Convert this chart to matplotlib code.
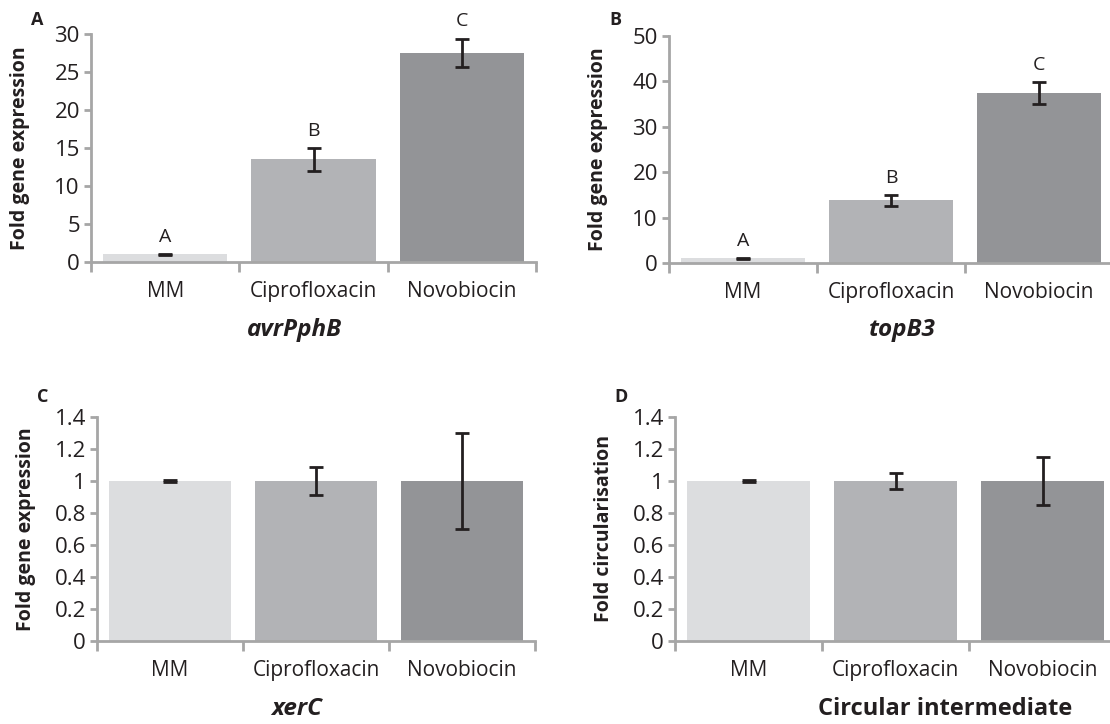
import matplotlib.pyplot as plt
import numpy as np

plt.rcParams['font.family'] = ['Open Sans', 'DejaVu Sans']

# Data
treatments = ['MM', 'Ciprofloxacin', 'Novobiocin']
bar_colors = ['#dcdddf', '#b2b3b6', '#939497']

avr_vals = [1.0, 13.5, 27.5]
avr_err = [0.05, 1.5, 1.9]
avr_letters = ['A', 'B', 'C']

top_vals = [1.0, 13.8, 37.5]
top_err = [0.05, 1.2, 2.4]
top_letters = ['A', 'B', 'C']

xer_vals = [1.0, 1.0, 1.0]
xer_err = [0.005, 0.09, 0.3]

circ_vals = [1.0, 1.0, 1.0]
circ_err = [0.005, 0.05, 0.15]

W, H = 1110, 724
fig = plt.figure(figsize=(W / 100, H / 100), dpi=100)

axis_col = '#a6a6a6'
text_col = '#231f20'


def px_axes(left, right, top, bottom):
    return fig.add_axes([left / W, 1 - bottom / H, (right - left) / W, (bottom - top) / H])


def draw_panel(ax, vals, errs, ymax, ystep, ylabel, fmt, width_px, letters=None):
    x = np.arange(len(treatments))
    ax.bar(x, vals, width=0.84, color=bar_colors, zorder=2)
    ax.errorbar(x, vals, yerr=errs, fmt='none', ecolor=text_col,
                elinewidth=2, capsize=5, capthick=2, zorder=3)
    ax.set_xlim(-0.5, 2.5)
    ax.set_ylim(0, ymax)
    yt = np.arange(0, ymax + ystep / 2, ystep)
    ax.set_yticks(yt)
    ax.set_yticklabels([fmt(v) for v in yt])
    ax.set_xticks([-0.5, 0.5, 1.5, 2.5])
    ax.set_xticklabels([])
    ax.set_xticks(x, minor=True)
    ax.set_xticklabels(treatments, minor=True)
    ax.tick_params(axis='x', which='major', length=7, width=2, color=axis_col, direction='out')
    ax.tick_params(axis='x', which='minor', length=0, pad=14, labelsize=15, labelcolor=text_col)
    ax.tick_params(axis='y', length=5, width=2, color=axis_col, labelsize=16,
                   labelcolor=text_col, pad=3)
    for s in ['top', 'right']:
        ax.spines[s].set_visible(False)
    for s in ['left', 'bottom']:
        ax.spines[s].set_color(axis_col)
        ax.spines[s].set_linewidth(2)
    ax.set_ylabel(ylabel, fontsize=14, fontweight='bold', color=text_col)
    ax.yaxis.set_label_coords(-61 / width_px, 0.5)
    if letters:
        for xi, v, e, lt in zip(x, vals, errs, letters):
            ax.annotate(lt, (xi, v + e), xytext=(0, 6), textcoords='offset points',
                        ha='center', va='bottom', fontsize=14, color=text_col)


def int_fmt(v):
    return f'{int(round(v))}'


def dec_fmt(v):
    return f'{v:g}'


axA = px_axes(91, 536, 34, 262)
draw_panel(axA, avr_vals, avr_err, 30, 5, 'Fold gene expression', int_fmt, 445, avr_letters)
axB = px_axes(669, 1113, 36, 263)
draw_panel(axB, top_vals, top_err, 50, 10, 'Fold gene expression', int_fmt, 444, top_letters)
axC = px_axes(97, 535, 417, 641)
draw_panel(axC, xer_vals, xer_err, 1.4, 0.2, 'Fold gene expression', dec_fmt, 438)
axD = px_axes(675, 1116, 417, 641)
draw_panel(axD, circ_vals, circ_err, 1.4, 0.2, 'Fold circularisation', dec_fmt, 441)

# gene names under each panel
fig.text(295 / W, 1 - 330 / H, 'avrPphB', ha='center', va='center', fontsize=17.5,
         fontweight='bold', style='italic', color=text_col)
fig.text(902 / W, 1 - 330 / H, 'topB3', ha='center', va='center', fontsize=17.5,
         fontweight='bold', style='italic', color=text_col)
fig.text(297 / W, 1 - 709 / H, 'xerC', ha='center', va='center', fontsize=17.5,
         fontweight='bold', style='italic', color=text_col)
fig.text(945 / W, 1 - 709 / H, 'Circular intermediate', ha='center', va='center',
         fontsize=17, fontweight='bold', color=text_col)

# panel letters
for lab, px, py in [('A', 37, 20), ('B', 615, 20), ('C', 43, 397), ('D', 621, 397)]:
    fig.text(px / W, 1 - py / H, lab, ha='center', va='center', fontsize=13,
             fontweight='bold', color=text_col)

fig.savefig('out.png', dpi=100)
